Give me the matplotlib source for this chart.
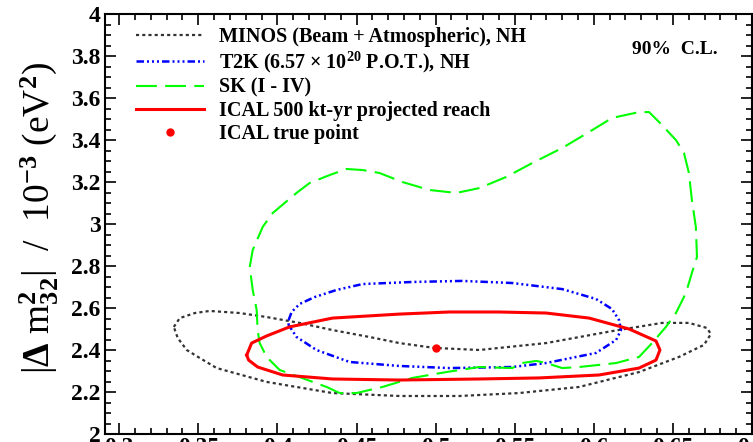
import matplotlib
matplotlib.use("Agg")
import matplotlib.pyplot as plt
from matplotlib.ticker import MultipleLocator, FormatStrFormatter

# 90% C.L. contours (sin^2 theta23, |dm2_32| in 1e-3 eV^2)
minos_x = [0.3345, 0.3383, 0.3478, 0.3572, 0.3762, 0.3932, 0.4140, 0.4348, 0.4582, 0.4771,
           0.4992, 0.5276, 0.5699, 0.6115, 0.6431, 0.6601, 0.6715, 0.6740, 0.6696, 0.6538,
           0.6286, 0.5907, 0.5528, 0.5150, 0.4771, 0.4348, 0.3932, 0.3616, 0.3509, 0.3427,
           0.3370, 0.3345]
minos_y = [2.510, 2.552, 2.576, 2.586, 2.576, 2.557, 2.529, 2.495, 2.462, 2.433,
           2.410, 2.400, 2.433, 2.490, 2.529, 2.529, 2.505, 2.476, 2.424, 2.367,
           2.295, 2.224, 2.195, 2.181, 2.181, 2.195, 2.248, 2.314, 2.362, 2.400,
           2.457, 2.510]

t2k_x = [0.4071, 0.4090, 0.4140, 0.4235, 0.4374, 0.4538, 0.4853, 0.5169, 0.5484, 0.5800,
         0.6014, 0.6115, 0.6159, 0.6172, 0.6141, 0.6014, 0.5699, 0.5484, 0.5087, 0.4771,
         0.4456, 0.4247, 0.4121, 0.4071, 0.4071]
t2k_y = [2.543, 2.581, 2.619, 2.652, 2.686, 2.714, 2.724, 2.729, 2.719, 2.690,
         2.643, 2.595, 2.543, 2.495, 2.448, 2.386, 2.338, 2.319, 2.314, 2.324,
         2.343, 2.400, 2.462, 2.519, 2.543]

sk_x = [0.4393, 0.4311, 0.4140, 0.4014, 0.3932, 0.3888, 0.3875, 0.3869, 0.3844, 0.3825,
        0.3844, 0.3907, 0.3970, 0.4121, 0.4203, 0.4330, 0.4437, 0.4538, 0.4645, 0.4790,
        0.4961, 0.5131, 0.5276, 0.5446, 0.5610, 0.5800, 0.5970, 0.6115, 0.6286, 0.6349,
        0.6412, 0.6519, 0.6570, 0.6601, 0.6620, 0.6645, 0.6652, 0.6620, 0.6582, 0.6519,
        0.6456, 0.6368, 0.6286, 0.6141, 0.6033, 0.5907, 0.5800, 0.5699, 0.5636, 0.5547,
        0.5484, 0.5276, 0.5068, 0.4853, 0.4664, 0.4500, 0.4393]
sk_y = [2.195, 2.224, 2.271, 2.305, 2.367, 2.433, 2.495, 2.590, 2.686, 2.795,
        2.876, 2.986, 3.052, 3.148, 3.195, 3.233, 3.262, 3.257, 3.243, 3.200,
        3.162, 3.148, 3.171, 3.224, 3.290, 3.362, 3.438, 3.505, 3.533, 3.533,
        3.486, 3.400, 3.338, 3.243, 3.114, 2.986, 2.843, 2.767, 2.671, 2.576,
        2.510, 2.433, 2.367, 2.338, 2.329, 2.319, 2.314, 2.338, 2.348, 2.338,
        2.314, 2.319, 2.295, 2.267, 2.224, 2.195, 2.195]

ical_x = [0.3806, 0.3837, 0.3932, 0.4077, 0.4348, 0.4771, 0.5087, 0.5402, 0.5699, 0.5970,
          0.6223, 0.6393, 0.6418, 0.6393, 0.6286, 0.6033, 0.5655, 0.5276, 0.4771, 0.4348,
          0.4033, 0.3875, 0.3818, 0.3806]
ical_y = [2.376, 2.433, 2.467, 2.510, 2.552, 2.571, 2.581, 2.581, 2.576, 2.552,
          2.500, 2.443, 2.400, 2.352, 2.314, 2.281, 2.267, 2.262, 2.257, 2.262,
          2.281, 2.319, 2.352, 2.376]

true_x = [0.5]
true_y = [2.41]

labels = ["MINOS (Beam + Atmospheric), NH",
          r"T2K (6.57 $\times$ 10$^{20}$ P.O.T.), NH",
          "SK (I - IV)",
          "ICAL 500 kt-yr projected reach",
          "ICAL true point"]

plt.rcParams["font.family"] = "Liberation Serif"
plt.rcParams["font.weight"] = "bold"
plt.rcParams["mathtext.fontset"] = "custom"
plt.rcParams["mathtext.rm"] = "Liberation Serif:bold"
plt.rcParams["mathtext.it"] = "Liberation Serif:bold"
plt.rcParams["mathtext.bf"] = "Liberation Serif:bold"
plt.rcParams["mathtext.default"] = "rm"

fig = plt.figure(figsize=(7.53, 4.42), dpi=100)
ax = fig.add_axes([0.1394, 0.0181, 0.8593, 0.9502])

ax.plot(minos_x, minos_y, color="#333333", lw=1.6, dashes=(1.4, 1.4), label=labels[0])
ax.plot(t2k_x, t2k_y, color="#0000ff", lw=1.8,
        dashes=(3, 1.2, 0.8, 1.2, 0.8, 1.2, 0.8, 1.2), label=labels[1])
ax.plot(sk_x, sk_y, color="#00ff00", lw=1.5, dashes=(10, 4), label=labels[2])
ax.plot(ical_x, ical_y, color="#ff0000", lw=2.2, label=labels[3])
ax.plot(true_x, true_y, "o", color="#ff0000", ms=5, ls="none", label=labels[4])

ax.set_xlim(0.291, 0.7)
ax.set_ylim(2, 4)
ax.xaxis.set_major_locator(MultipleLocator(0.05))
ax.xaxis.set_minor_locator(MultipleLocator(0.01))
ax.yaxis.set_major_locator(MultipleLocator(0.2))
ax.yaxis.set_minor_locator(MultipleLocator(0.05))
ax.xaxis.set_major_formatter(FormatStrFormatter("%g"))
ax.yaxis.set_major_formatter(FormatStrFormatter("%g"))

ax.tick_params(which="both", direction="in", top=True, right=True, width=1.2, labelsize=17)
ax.tick_params(which="major", length=8)
ax.tick_params(which="minor", length=4)
ax.tick_params(axis="x", pad=2)
ax.tick_params(axis="y", pad=3)
for s in ax.spines.values():
    s.set_linewidth(1.5)

ax.set_ylabel(r"|$\Delta$ m$^{2}_{32}$|  /  10$^{-3}$ (eV$^{2}$)", fontsize=27)
ax.yaxis.set_label_coords(-0.068, 0.515)

ax.legend(loc="upper left", bbox_to_anchor=(0.035, 0.988), frameon=False, fontsize=14.5,
          handlelength=3.4, handletextpad=0.75, labelspacing=0.14, numpoints=1,
          borderaxespad=0)

ax.text(0.947, 0.915, "90%  C.L.", transform=ax.transAxes, ha="right", va="center",
        fontsize=14)

fig.savefig("out.png", dpi=100)
